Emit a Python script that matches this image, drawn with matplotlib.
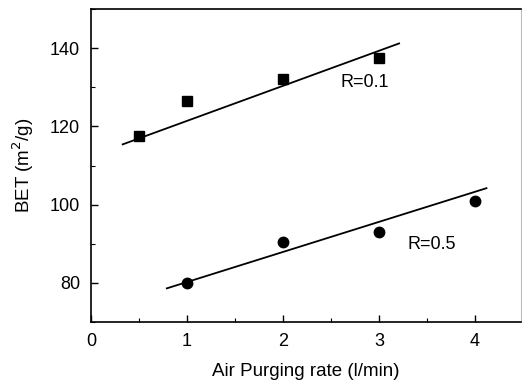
import matplotlib
matplotlib.use("Agg")
import matplotlib.pyplot as plt
from matplotlib.ticker import MultipleLocator

plt.rcParams['font.family'] = ['Liberation Sans', 'DejaVu Sans']

# BET surface area vs air purging rate for two R values
rate_r01 = [0.5, 1, 2, 3]
bet_r01 = [117.5, 126.5, 132, 137.5]
rate_r05 = [1, 2, 3, 4]
bet_r05 = [80, 90.5, 93, 101]

# trend lines (end points)
fit_x_r01 = [0.33, 3.21]
fit_y_r01 = [115.4, 141.2]
fit_x_r05 = [0.79, 4.12]
fit_y_r05 = [78.6, 104.2]

fig = plt.figure(figsize=(5.22, 3.84), dpi=100)
ax = fig.add_axes([91 / 522, 1 - 322 / 384, 430 / 522, 313 / 384])

ax.plot(rate_r01, bet_r01, 's', color='black', markersize=6.5)
ax.plot(fit_x_r01, fit_y_r01, '-', color='black', linewidth=1.3)
ax.plot(rate_r05, bet_r05, 'o', color='black', markersize=7.5)
ax.plot(fit_x_r05, fit_y_r05, '-', color='black', linewidth=1.3)

ax.text(2.85, 131.3, 'R=0.1', fontsize=13, ha='center', va='center')
ax.text(3.55, 89.7, 'R=0.5', fontsize=13, ha='center', va='center')

ax.set_xlim(0, 4.48)
ax.set_ylim(70, 150)
ax.xaxis.set_major_locator(MultipleLocator(1))
ax.xaxis.set_minor_locator(MultipleLocator(0.5))
ax.yaxis.set_major_locator(MultipleLocator(20))
ax.yaxis.set_minor_locator(MultipleLocator(10))
ax.tick_params(which='major', direction='in', length=5, width=1, labelsize=13, pad=8)
ax.tick_params(which='minor', direction='in', length=3, width=0.8)

for side in ['left', 'bottom', 'top']:
    ax.spines[side].set_linewidth(1.2)
ax.spines['right'].set_color('#bbbbbb')
ax.spines['right'].set_linewidth(0.8)

ax.set_xlabel('Air Purging rate (l/min)', fontsize=13.5, labelpad=9)
ax.set_ylabel('BET (m$^2$/g)', fontsize=13.5, labelpad=10)

fig.savefig('out.png', dpi=100)
